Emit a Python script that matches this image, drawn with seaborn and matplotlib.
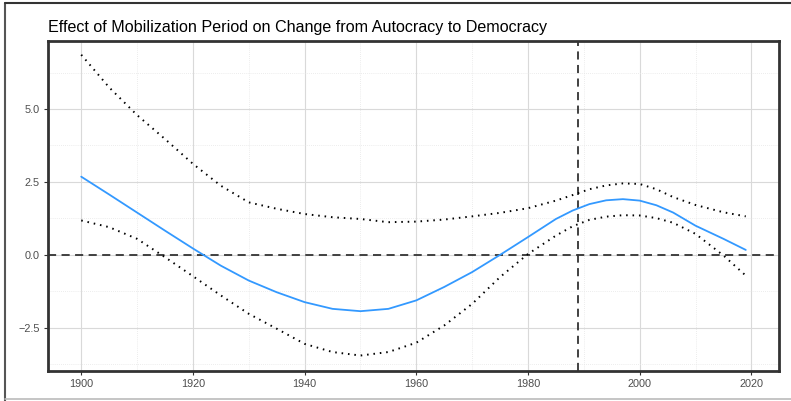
import numpy as np
import pandas as pd
import seaborn as sns
import matplotlib
matplotlib.use("Agg")
import matplotlib.pyplot as plt
from matplotlib.lines import Line2D
from matplotlib.ticker import MultipleLocator

# Marginal effect of the mobilization period, with its confidence bounds
years = [1900, 1905, 1910, 1915, 1920, 1925, 1930, 1935, 1940, 1945, 1950, 1955,
         1960, 1965, 1970, 1975, 1980, 1985, 1988, 1991, 1994, 1997, 2000, 2003,
         2006, 2010, 2015, 2019]
estimate = [2.68, 2.07, 1.45, 0.83, 0.22, -0.37, -0.88, -1.28, -1.62, -1.85, -1.93, -1.85,
            -1.56, -1.10, -0.59, 0.00, 0.61, 1.23, 1.52, 1.74, 1.87, 1.91, 1.86, 1.70,
            1.45, 1.00, 0.55, 0.17]
upper = [6.86, 5.74, 4.79, 3.97, 3.12, 2.37, 1.80, 1.58, 1.40, 1.29, 1.23, 1.12,
         1.14, 1.21, 1.32, 1.44, 1.60, 1.86, 2.05, 2.25, 2.38, 2.45, 2.43, 2.25,
         1.98, 1.71, 1.46, 1.32]
lower = [1.18, 0.95, 0.55, -0.08, -0.73, -1.39, -2.02, -2.53, -3.05, -3.33, -3.45, -3.33,
         -3.01, -2.42, -1.68, -0.76, 0.03, 0.66, 0.98, 1.20, 1.31, 1.36, 1.35, 1.26,
         1.10, 0.72, -0.02, -0.71]
cutoff_year = 1989
title = "Effect of Mobilization Period on Change from Autocracy to Democracy"

df = pd.DataFrame({"year": years, "estimate": estimate, "upper": upper, "lower": lower})

sns.set_theme(style="white")
plt.rcParams["font.family"] = ["Liberation Sans", "DejaVu Sans"]

fig = plt.figure(figsize=(7.91, 4.01), dpi=100)
ax = fig.add_axes([48 / 791, 30 / 401, 731 / 791, 330 / 401])

# grid
ax.xaxis.set_major_locator(MultipleLocator(20))
ax.xaxis.set_minor_locator(MultipleLocator(10))
ax.yaxis.set_major_locator(MultipleLocator(2.5))
ax.yaxis.set_minor_locator(MultipleLocator(1.25))
ax.grid(which="major", color="#D9D9D9", linewidth=0.8)
ax.grid(which="minor", color="#E6E6E6", linewidth=0.6, linestyle=(0, (1, 1.5)))
ax.set_axisbelow(True)

ax.axhline(0, color="#333333", linewidth=1.3, linestyle=(0, (4.5, 3)), zorder=2)
ax.axvline(cutoff_year, color="#333333", linewidth=1.3, linestyle=(0, (4.5, 3)), zorder=2)

sns.lineplot(data=df, x="year", y="upper", ax=ax, color="black",
             linewidth=1.4, linestyle=(0, (0.8, 2.5)), zorder=3)
sns.lineplot(data=df, x="year", y="lower", ax=ax, color="black",
             linewidth=1.4, linestyle=(0, (0.8, 2.5)), zorder=3)
sns.lineplot(data=df, x="year", y="estimate", ax=ax, color="#3399FF",
             linewidth=1.3, zorder=4)

ax.set_xlim(1894.05, 2024.95)
ax.set_ylim(-3.98, 7.33)
ax.set_xlabel("")
ax.set_ylabel("")
ax.set_yticks([-2.5, 0.0, 2.5, 5.0])
ax.set_yticklabels(["\u22122.5", "0.0", "2.5", "5.0"])
ax.set_xticks([1900, 1920, 1940, 1960, 1980, 2000, 2020])

ax.tick_params(axis="both", which="major", length=3, width=0.8, color="#333333",
               labelsize=7.8, labelcolor="#4D4D4D", pad=3, bottom=True, left=True)
ax.tick_params(axis="both", which="minor", length=0)

for s in ax.spines.values():
    s.set_visible(True)
    s.set_color("#333333")
    s.set_linewidth(2.0)

fig.text(48 / 791, 1 - 27.5 / 401, title, ha="left", va="center",
         fontsize=11.65, color="black")

# outer frame
fig.add_artist(Line2D([5 / 791, 5 / 791], [0, 1 - 3 / 401], transform=fig.transFigure,
                      color="#555555", linewidth=1.5))
fig.add_artist(Line2D([5 / 791, 1], [1 - 3 / 401, 1 - 3 / 401], transform=fig.transFigure,
                      color="#333333", linewidth=1.5))
fig.add_artist(Line2D([5 / 791, 1], [2 / 401, 2 / 401], transform=fig.transFigure,
                      color="#BBBBBB", linewidth=1.2))

fig.savefig("out.png", dpi=100)
